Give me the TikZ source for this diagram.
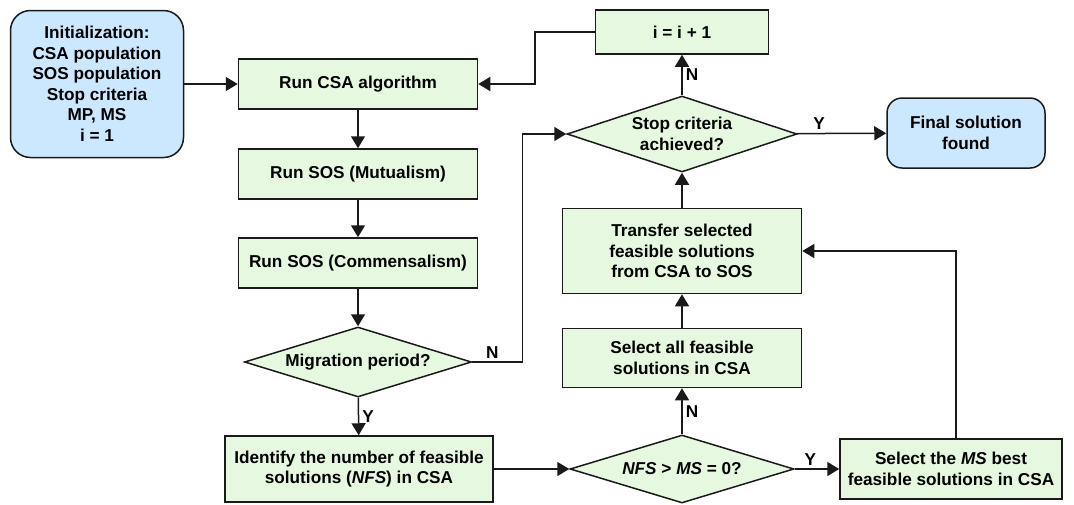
\documentclass[tikz,border=0pt]{standalone}
\usepackage{fontspec}
\setmainfont{Liberation Sans}
\usetikzlibrary{shapes.geometric, arrows.meta}
\definecolor{boxgreen}{HTML}{E6F8E0}
\definecolor{boxblue}{HTML}{CCE8FF}
\definecolor{edgeblack}{HTML}{1A1A1A}

\begin{document}
\begin{tikzpicture}[x = 1pt, y = -1pt,
    font = \fontsize{17.2}{20.5}\selectfont\bfseries,
    proc/.style = {draw = edgeblack, line width = 1.5pt, fill = boxgreen, align = center, inner sep = 0pt},
    term/.style = {proc, fill = boxblue, rounded corners = 20pt},
    dec/.style = {draw = edgeblack, line width = 1.5pt, fill = boxgreen, diamond, aspect = 3.2, inner sep = 0pt, align = center},
    arr/.style = {-{Triangle[length = 12pt, width = 14pt]}, line width = 1.5pt, draw = edgeblack},
    lab/.style = {inner sep = 3pt}]
    % Bordi
    \useasboundingbox (0,0) rectangle (1074,504);
    % Colonna di sinistra
    \node[term, minimum width = 173pt, minimum height = 147pt] (init) at (97,84) {Initialization:\\CSA population\\SOS population\\Stop criteria\\MP, MS\\i = 1};
    \node[proc, minimum width = 239pt, minimum height = 50pt] (csa) at (358,84) {Run CSA algorithm};
    \node[proc, minimum width = 239pt, minimum height = 50pt] (mut) at (358,174) {Run SOS (Mutualism)};
    \node[proc, minimum width = 239pt, minimum height = 50pt] (com) at (358,263) {Run SOS (Commensalism)};
    \node[dec, minimum width = 227pt, minimum height = 70pt] (mig) at (358,362) {Migration period?};
    \node[proc, minimum width = 268pt, minimum height = 66pt] (ident) at (359,469) {Identify the number of feasible\\solutions (\textit{NFS}) in CSA};
    % Colonna centrale
    \node[dec, minimum width = 224pt, minimum height = 68pt] (nfs) at (682,469) {\textit{NFS} > \textit{MS} = 0?};
    \node[proc, minimum width = 239pt, minimum height = 59pt] (selall) at (682,358) {Select all feasible\\solutions in CSA};
    \node[proc, minimum width = 239pt, minimum height = 85pt] (transfer) at (682,251) {Transfer selected\\feasible solutions\\from CSA to SOS};
    \node[dec, minimum width = 230pt, minimum height = 76pt] (stop) at (682,134) {Stop criteria\\achieved?};
    \node[proc, minimum width = 173pt, minimum height = 44pt] (inc) at (682,32) {i = i + 1};
    % Colonna di destra
    \node[proc, minimum width = 222pt, minimum height = 60pt] (selms) at (951,469) {Select the \textit{MS} best\\feasible solutions in CSA};
    \node[term, rounded corners = 15pt, minimum width = 158pt, minimum height = 70pt] (final) at (966,133) {Final solution\\found};
    % Frecce
    \draw[arr] (init) -- (csa);
    \draw[arr] (csa) -- (mut);
    \draw[arr] (mut) -- (com);
    \draw[arr] (com) -- (mig);
    \draw[arr] (mig) -- node[lab, right]{Y} (ident);
    \draw[arr] (mig.east) -- ++(50,0) node[lab, pos = 0.4, above]{N} |- (stop.west);
    \draw[arr] (ident) -- (nfs);
    \draw[arr] (nfs) -- node[lab, pos = 0.35, above]{Y} (selms);
    \draw[arr] (nfs) -- node[lab, right]{N} (selall);
    \draw[arr] (selall) -- (transfer);
    \draw[arr] ([xshift = 5pt]selms.north) |- (transfer.east);
    \draw[arr] (transfer) -- (stop);
    \draw[arr] (stop) -- node[lab, right]{N} (inc);
    \draw[arr] (stop) -- node[lab, pos = 0.25, above]{Y} (final);
    \draw[arr] (inc.west) -- ++(-60,0) |- (csa.east);
\end{tikzpicture}
\end{document}
